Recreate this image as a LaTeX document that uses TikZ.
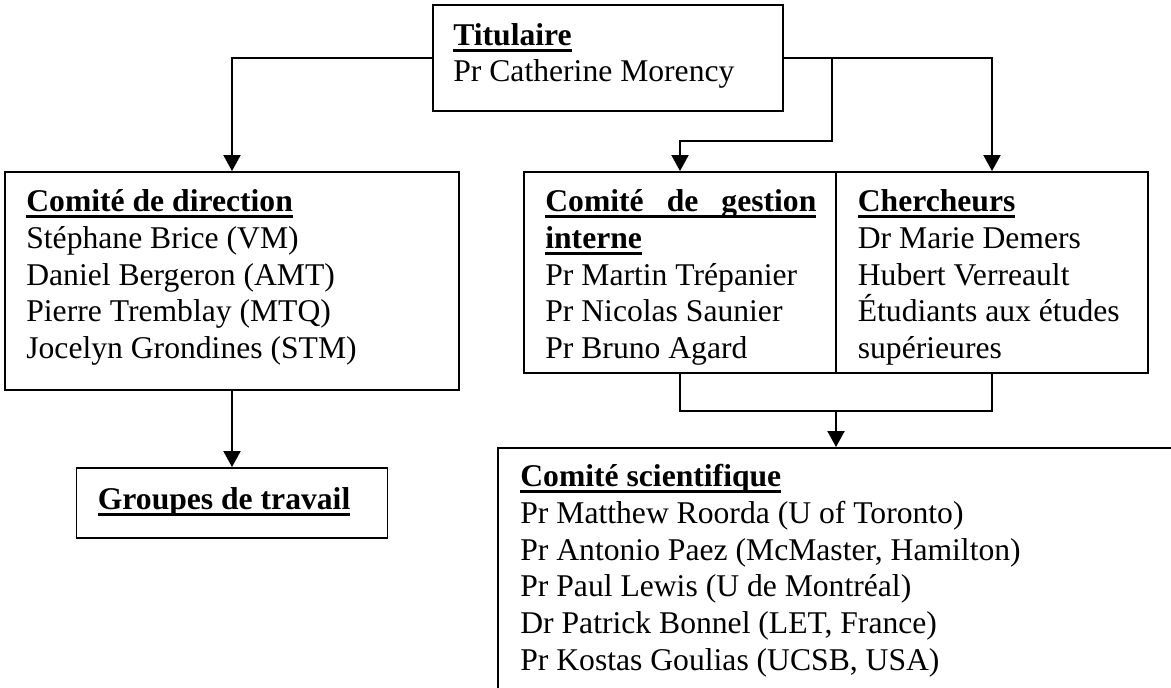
\documentclass[tikz,border=0pt]{standalone}
\usepackage{fontspec}
\setmainfont{Liberation Serif}
\usetikzlibrary{arrows.meta, calc}

\newsavebox{\hdbox}
\newcommand{\hdul}[1]{\sbox{\hdbox}{#1}\rlap{\rule[-3.7pt]{\wd\hdbox}{1.7pt}}\usebox{\hdbox}}

\begin{document}
\begin{tikzpicture}[
    orgbox/.style={draw, line width=1.1pt, rectangle, inner sep=0pt, fill=white},
    member/.style={anchor=base west, inner sep=0pt, font=\fontsize{18}{21}\selectfont},
    head/.style={member, font=\fontsize{18}{21}\selectfont\bfseries},
    link/.style={line width=1.2pt, draw=black},
    linkarrow/.style={link, -{Triangle[width=0.34cm, length=0.32cm]}}
]
\useasboundingbox (0,0) rectangle (23.42,-13.74);
\clip (0,0) rectangle (23.42,-13.74);

% Titulaire
\node[orgbox, minimum width=7cm, minimum height=2.12cm] (tit) at (12.16,-1.16) {};
\node[head] (tit-t1) at (9.06,-0.90) {\hdul{Titulaire}};
\node[member] (tit-t2) at (9.06,-1.634) {Pr Catherine Morency};

% Comite de direction
\node[orgbox, minimum width=9.08cm, minimum height=4.36cm] (dir) at (4.64,-5.62) {};
\node[head] (dir-t1) at (0.52,-4.234) {\hdul{Comité de direction}};
\node[member] (dir-t2) at (0.52,-4.968) {Stéphane Brice (VM)};
\node[member] (dir-t3) at (0.52,-5.70) {Daniel Bergeron (AMT)};
\node[member] (dir-t4) at (0.52,-6.436) {Pierre Tremblay (MTQ)};
\node[member] (dir-t5) at (0.52,-7.17) {Jocelyn Grondines (STM)};

% Comite de gestion interne
\node[orgbox, minimum width=6.24cm, minimum height=4.02cm] (gest) at (13.6,-5.45) {};
\node[head] (gest-t1) at (10.9,-4.234) {\hdul{\makebox[5.42cm][s]{Comité de gestion}}};
\node[head] (gest-t2) at (10.9,-4.968) {\hdul{interne}};
\node[member] (gest-t3) at (10.9,-5.70) {Pr Martin Trépanier};
\node[member] (gest-t4) at (10.9,-6.436) {Pr Nicolas Saunier};
\node[member] (gest-t5) at (10.9,-7.17) {Pr Bruno Agard};

% Chercheurs
\node[orgbox, minimum width=6.24cm, minimum height=4.02cm] (cher) at (19.84,-5.45) {};
\node[head] (cher-t1) at (17.15,-4.234) {\hdul{Chercheurs}};
\node[member] (cher-t2) at (17.15,-4.968) {Dr Marie Demers};
\node[member] (cher-t3) at (17.15,-5.70) {Hubert Verreault};
\node[member] (cher-t4) at (17.15,-6.436) {Étudiants aux études};
\node[member] (cher-t5) at (17.15,-7.17) {supérieures};

% Groupes de travail
\node[orgbox, minimum width=6.22cm, minimum height=1.4cm] (grp) at (4.64,-10.06) {};
\node[head] (grp-t1) at (1.95,-10.18) {\hdul{Groupes de travail}};

% Comite scientifique
\node[orgbox, anchor=north, minimum width=13.52cm, minimum height=6.5cm] (sci) at (16.72,-8.94) {};
\node[head] (sci-t1) at (10.4,-9.734) {\hdul{Comité scientifique}};
\node[member] (sci-t2) at (10.4,-10.468) {Pr Matthew Roorda (U of Toronto)};
\node[member] (sci-t3) at (10.4,-11.20) {Pr Antonio Paez (McMaster, Hamilton)};
\node[member] (sci-t4) at (10.4,-11.936) {Pr Paul Lewis (U de Montréal)};
\node[member] (sci-t5) at (10.4,-12.67) {Dr Patrick Bonnel (LET, France)};
\node[member] (sci-t6) at (10.4,-13.404) {Pr Kostas Goulias (UCSB, USA)};

% Titulaire to committees
\draw[linkarrow] (tit.west) -| (dir.north);
\draw[linkarrow] (tit.east) -| (cher.north);
\coordinate (tsplit) at (16.64,-1.16);
\draw[linkarrow] (tsplit) -- ++(0,-1.66) -| (gest.north);

% Direction to working groups
\draw[linkarrow] (dir.south) -- (grp.north);

% Gestion and chercheurs to scientific committee
\draw[link] (gest.south) -- ++(0,-0.74) -| (cher.south);
\coordinate (bjoin) at ($(sci.north)+(0,0.74)$);
\draw[linkarrow] (bjoin) -- (sci.north);

\end{tikzpicture}
\end{document}
